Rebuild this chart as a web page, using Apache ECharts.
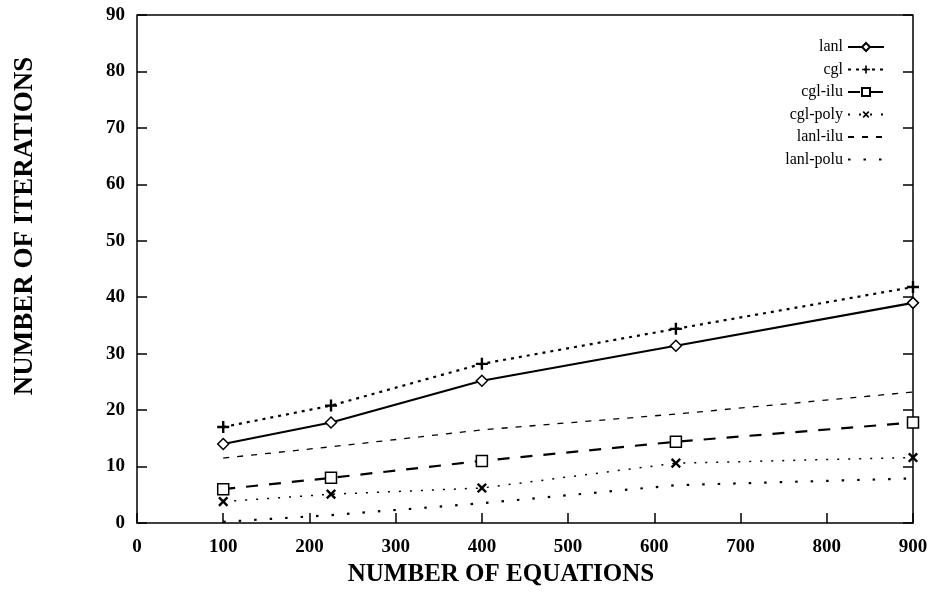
<!DOCTYPE html>
<html>
<head>
<meta charset="utf-8">
<script src="https://cdn.jsdelivr.net/npm/echarts@6/dist/echarts.min.js"></script>
<style>
  html, body { margin: 0; padding: 0; background: #fff; }
  #main { width: 932px; height: 601px; }
</style>
</head>
<body>
<div id="main"></div>
<script>
// number of equations
const equations = [100, 225, 400, 625, 900];
const lanl = [14.0, 17.8, 25.2, 31.4, 39.0];
const cgl = [17.0, 20.8, 28.2, 34.4, 41.8];
const cglIlu = [6.0, 8.0, 11.0, 14.4, 17.8];
const cglPoly = [3.8, 5.1, 6.2, 10.6, 11.6];
const lanlIlu = [11.5, 13.5, 16.5, 19.3, 23.2];
const lanlPolu = [0.2, 1.4, 3.5, 6.7, 7.9];
const xTicks = [0, 100, 200, 300, 400, 500, 600, 700, 800, 900];
const yTicks = [0, 10, 20, 30, 40, 50, 60, 70, 80, 90];

const serif = '"Liberation Serif", "DejaVu Serif", serif';
const plus = 'path://M4,0H6V4H10V6H6V10H4V6H0V4H4Z';

function pairs(ys) {
  return equations.map((x, i) => [x, ys[i]]);
}

function makeSeries(name, ys, line, symbol) {
  // series without markers keep an invisible symbol so the legend shows only the line
  let s = {
    name: name,
    type: 'line',
    data: pairs(ys),
    lineStyle: line,
    symbol: symbol ? symbol.type : 'circle',
    showSymbol: !!symbol,
    symbolSize: symbol ? symbol.size : 0,
    symbolRotate: symbol && symbol.rotate ? symbol.rotate : 0,
    itemStyle: symbol ? symbol.style : { color: 'rgba(0,0,0,0)', borderWidth: 0 },
    emphasis: { disabled: true },
    animation: false,
    z: 3
  };
  return s;
}

const hollow = { color: '#fff', borderColor: '#000', borderWidth: 1.5 };
const solidBlack = { color: '#000', borderColor: '#000', borderWidth: 0 };

const series = [
  makeSeries('lanl', lanl, { color: '#000', width: 2.2, type: 'solid' },
    { type: 'diamond', size: 11, style: hollow }),
  makeSeries('cgl', cgl, { color: '#000', width: 2.2, type: [3, 5] },
    { type: plus, size: 12, style: solidBlack }),
  makeSeries('cgl-ilu', cglIlu, { color: '#000', width: 2.2, type: [12, 11] },
    { type: 'rect', size: 11, style: hollow }),
  makeSeries('cgl-poly', cglPoly, { color: '#000', width: 1.5, type: [2, 9] },
    { type: plus, size: 12, rotate: 45, style: solidBlack }),
  makeSeries('lanl-ilu', lanlIlu, { color: '#000', width: 1.3, type: [6, 8] }, null),
  makeSeries('lanl-polu', lanlPolu, { color: '#000', width: 2.2, type: [2.5, 13] }, null)
];

const tickStyle = { show: true, inside: true, length: 10, lineStyle: { color: '#000', width: 1.5 } };

const option = {
  backgroundColor: '#fff',
  animation: false,
  grid: { left: 137, right: 19, top: 15, bottom: 78 },
  legend: {
    orient: 'vertical',
    right: 42,
    top: 34,
    align: 'right',
    itemWidth: 36,
    itemHeight: 10,
    itemGap: 6.5,
    selectedMode: false,
    textStyle: { fontFamily: serif, fontSize: 16, color: '#000' },
    data: series.map(s => s.name)
  },
  xAxis: {
    type: 'value',
    min: 0,
    max: 900,
    interval: 100,
    name: 'NUMBER OF EQUATIONS',
    nameLocation: 'middle',
    nameGap: 38,
    nameTextStyle: {
      fontFamily: serif, fontSize: 25, fontWeight: 'bold', color: '#000',
      padding: [0, 48, 0, 0]
    },
    axisLine: { show: true, onZero: false, lineStyle: { color: '#000', width: 1.5 } },
    axisTick: tickStyle,
    splitLine: { show: false },
    axisLabel: {
      fontFamily: serif, fontSize: 19, fontWeight: 'bold', color: '#000', margin: 15,
      formatter: v => xTicks.includes(v) ? String(v) : ''
    }
  },
  yAxis: [{
    type: 'value',
    min: 0,
    max: 90,
    interval: 10,
    name: 'NUMBER OF ITERATIONS',
    nameLocation: 'middle',
    nameGap: 98,
    nameRotate: 90,
    nameTextStyle: {
      fontFamily: serif, fontSize: 27, fontWeight: 'bold', color: '#000',
      padding: [0, 0, 0, 86]
    },
    axisLine: { show: true, lineStyle: { color: '#000', width: 1.5 } },
    axisTick: tickStyle,
    splitLine: { show: false },
    axisLabel: {
      fontFamily: serif, fontSize: 19, fontWeight: 'bold', color: '#000', margin: 12,
      formatter: v => yTicks.includes(v) ? String(v) : ''
    }
  }, {
    // right edge of the box, ticks only
    type: 'value',
    position: 'right',
    min: 0,
    max: 90,
    interval: 10,
    axisLine: { show: true, lineStyle: { color: '#000', width: 1.5 } },
    axisTick: tickStyle,
    splitLine: { show: false },
    axisLabel: { show: false }
  }],
  series: series
};

const myChart = echarts.init(document.getElementById('main'), null, { renderer: 'canvas' });
myChart.setOption(option);

// top edge of the box, placed through the axis scale
const topLeft = myChart.convertToPixel({ xAxisIndex: 0, yAxisIndex: 0 }, [0, 90]);
const topRight = myChart.convertToPixel({ xAxisIndex: 0, yAxisIndex: 0 }, [900, 90]);
myChart.setOption({
  graphic: [{
    type: 'line',
    shape: { x1: topLeft[0], y1: topLeft[1], x2: topRight[0], y2: topRight[1] },
    style: { stroke: '#000', lineWidth: 1.5 }
  }]
});
</script>
</body>
</html>
